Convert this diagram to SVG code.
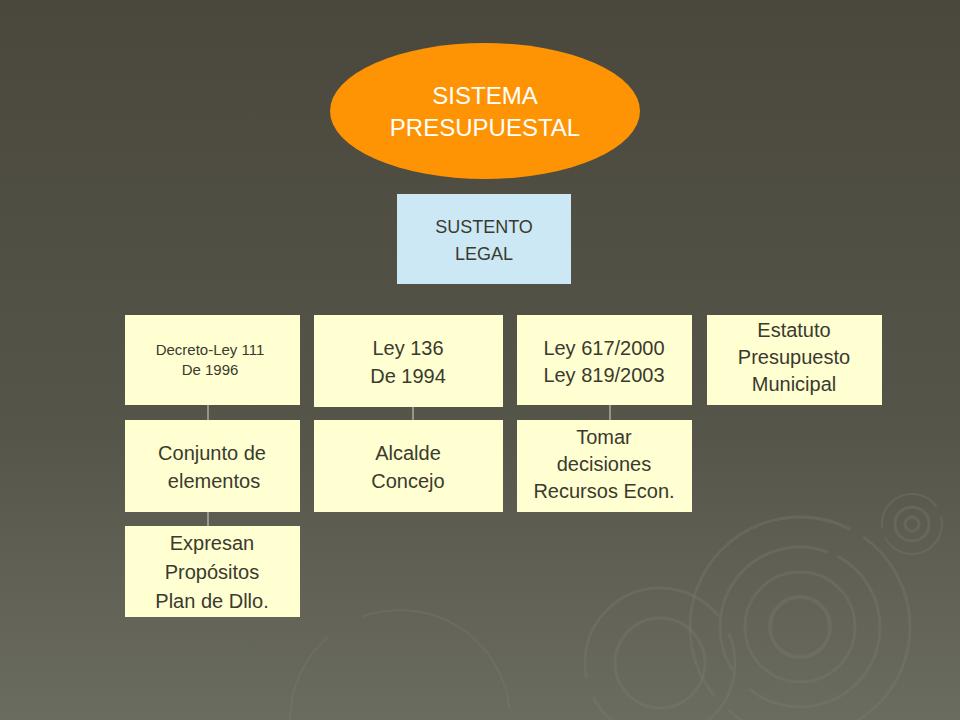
<svg xmlns="http://www.w3.org/2000/svg" width="960" height="720" viewBox="0 0 960 720">
<defs>
<linearGradient id="bg" x1="0" y1="0" x2="0" y2="1">
<stop offset="0" stop-color="#4a483d"/>
<stop offset="0.6" stop-color="#56554a"/>
<stop offset="1" stop-color="#6b6c60"/>
</linearGradient>
<style>
.box{fill:#ffffd2}
.t{font-family:'Liberation Sans',Arial,Helvetica,sans-serif;fill:#3a3a2e;text-anchor:middle}
.c{stroke:#d8d8c0;stroke-width:1;fill:none}
.r{fill:none;stroke:#7a7b6e;stroke-opacity:0.35}
</style>
</defs>
<rect width="960" height="720" fill="url(#bg)"/>
<g id="decor">
<circle class="r" cx="800" cy="627" r="110" stroke-width="3" stroke-dasharray="250 20 300 15"/>
<circle class="r" cx="800" cy="627" r="80" stroke-width="3" stroke-dasharray="180 25 200 10"/>
<circle class="r" cx="800" cy="627" r="55" stroke-width="3"/>
<circle class="r" cx="800" cy="627" r="30" stroke-width="4"/>
<circle class="r" cx="660" cy="663" r="75" stroke-width="3" stroke-dasharray="200 20"/>
<circle class="r" cx="660" cy="663" r="45" stroke-width="3"/>
<circle class="r" cx="912" cy="524" r="30" stroke-width="2" stroke-dasharray="80 10"/>
<circle class="r" cx="912" cy="524" r="17" stroke-width="3"/>
<circle class="r" cx="912" cy="524" r="7" stroke-width="3"/>
<circle class="r" cx="400" cy="720" r="110" stroke-width="2" stroke-dasharray="200 40"/>
</g>
<g id="connectors">
<line class="c" x1="208" y1="405" x2="208" y2="420"/>
<line class="c" x1="208" y1="512" x2="208" y2="526"/>
<line class="c" x1="413" y1="407" x2="413" y2="420"/>
<line class="c" x1="610" y1="405" x2="610" y2="420"/>
</g>
<g id="sistema">
<ellipse cx="485" cy="111" rx="155" ry="68" fill="#fe9403"/>
<text class="t" x="485" y="104" font-size="24" font-family="Liberation Sans" style="fill:#fff">SISTEMA</text>
<text class="t" x="485" y="136" font-size="24" font-family="Liberation Sans" style="fill:#fff">PRESUPUESTAL</text>
</g>
<g id="sustento" font-family="Liberation Sans">
<rect x="397" y="194" width="174" height="90" fill="#cce8f5"/>
<text class="t" x="484" y="233" font-size="18">SUSTENTO</text>
<text class="t" x="484" y="260" font-size="18">LEGAL</text>
</g>
<g id="decreto">
<rect class="box" x="125" y="315" width="175" height="90"/>
<text class="t" x="210" y="355" font-size="15">Decreto-Ley 111</text>
<text class="t" x="210" y="375" font-size="15">De 1996</text>
</g>
<g id="ley136">
<rect class="box" x="314" y="315" width="189" height="92"/>
<text class="t" x="408" y="355" font-size="20">Ley 136</text>
<text class="t" x="408" y="383" font-size="20">De 1994</text>
</g>
<g id="ley617">
<rect class="box" x="517" y="315" width="175" height="90"/>
<text class="t" x="604" y="355" font-size="20">Ley 617/2000</text>
<text class="t" x="604" y="382" font-size="20">Ley 819/2003</text>
</g>
<g id="estatuto">
<rect class="box" x="707" y="315" width="175" height="90"/>
<text class="t" x="794" y="337" font-size="20">Estatuto</text>
<text class="t" x="794" y="364" font-size="20">Presupuesto</text>
<text class="t" x="794" y="391" font-size="20">Municipal</text>
</g>
<g id="conjunto">
<rect class="box" x="125" y="420" width="175" height="92"/>
<text class="t" x="212" y="460" font-size="20">Conjunto de</text>
<text class="t" x="214" y="488" font-size="20">elementos</text>
</g>
<g id="alcalde">
<rect class="box" x="314" y="420" width="189" height="92"/>
<text class="t" x="408" y="460" font-size="20">Alcalde</text>
<text class="t" x="408" y="488" font-size="20">Concejo</text>
</g>
<g id="tomar">
<rect class="box" x="517" y="420" width="175" height="92"/>
<text class="t" x="604" y="444" font-size="20">Tomar</text>
<text class="t" x="604" y="471" font-size="20">decisiones</text>
<text class="t" x="604" y="498" font-size="20">Recursos Econ.</text>
</g>
<g id="expresan">
<rect class="box" x="125" y="526" width="175" height="91"/>
<text class="t" x="212" y="550" font-size="20">Expresan</text>
<text class="t" x="212" y="579" font-size="20">Propósitos</text>
<text class="t" x="212" y="608" font-size="20">Plan de Dllo.</text>
</g>
</svg>
